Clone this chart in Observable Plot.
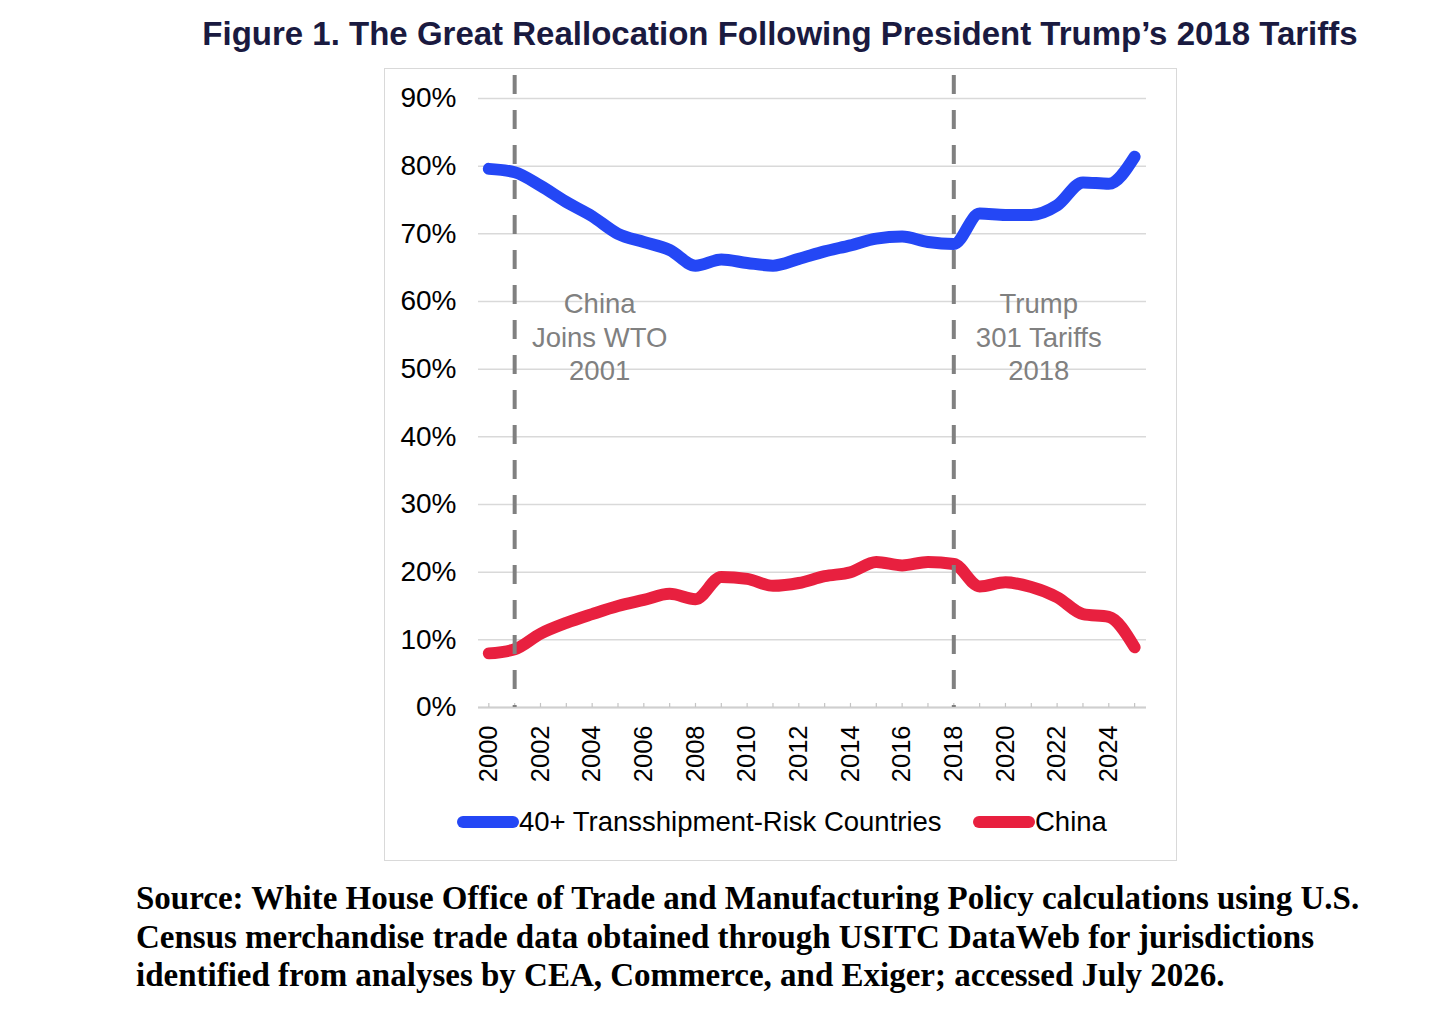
<!DOCTYPE html>
<html>
<head>
<meta charset="utf-8">
<script src="https://cdn.jsdelivr.net/npm/d3@7"></script>
<script src="https://cdn.jsdelivr.net/npm/@observablehq/plot@0.6"></script>
<style>
  html, body { margin: 0; padding: 0; background: #fff; }
  #page { position: relative; width: 1456px; height: 1027px; overflow: hidden; background: #fff; }
  #title { position: absolute; left: 0; width: 1560px; top: 15px; text-align: center;
    font-family: "Liberation Sans", Arial, Helvetica, sans-serif; font-weight: bold; font-size: 33px; color: #1a1a40; white-space: nowrap; }
  #box { position: absolute; left: 384px; top: 68px; width: 791px; height: 791px; border: 1.5px solid #d9d9d9; }
  #chart { position: absolute; left: 384px; top: 68px; }
  .leg { position: absolute; top: 806px; display: flex; align-items: center;
    font-family: "Liberation Sans", Arial, Helvetica, sans-serif; font-size: 27.5px; color: #000; white-space: nowrap; }
  .sw { display: inline-block; width: 62px; height: 12px; border-radius: 6px; margin-right: 0px; }
  #source { position: absolute; left: 136px; top: 879px; font-family: "Liberation Serif", "Times New Roman", serif;
    font-weight: bold; font-size: 33px; line-height: 38.7px; color: #000; white-space: nowrap; }
</style>
</head>
<body>
<div id="page">
  <div id="title">Figure 1. The Great Reallocation Following President Trump’s 2018 Tariffs</div>
  <div id="box"></div>
  <div id="chart"></div>
  <div id="legend"></div>
  <div id="source">Source: White House Office of Trade and Manufacturing Policy calculations using U.S.<br>Census merchandise trade data obtained through USITC DataWeb for jurisdictions<br>identified from analyses by CEA, Commerce, and Exiger; accessed July 2026.</div>
</div>
<script>
const years = [2000, 2001, 2002, 2003, 2004, 2005, 2006, 2007, 2008, 2009, 2010, 2011, 2012,
  2013, 2014, 2015, 2016, 2017, 2018, 2019, 2020, 2021, 2022, 2023, 2024, 2025];
const transshipment = [79.6, 79.1, 77.1, 74.7, 72.6, 70.0, 68.8, 67.6, 65.3, 66.2, 65.7, 65.3, 66.3,
  67.4, 68.3, 69.3, 69.6, 68.8, 68.5, 73.0, 72.8, 72.8, 74.2, 77.6, 77.4, 81.4];
const china = [8.0, 8.6, 10.9, 12.5, 13.8, 15.0, 15.9, 16.8, 16.0, 19.3, 19.0, 18.0, 18.4,
  19.4, 20.0, 21.5, 21.0, 21.5, 21.2, 17.9, 18.5, 17.8, 16.3, 13.8, 13.4, 8.9];
const seriesNames = ["40+ Transshipment-Risk Countries", "China"];
const seriesColors = ["#2447f5", "#e8203f"];
const xTickLabels = [2000, 2002, 2004, 2006, 2008, 2010, 2012, 2014, 2016, 2018, 2020, 2022, 2024];
const yTicks = [0, 10, 20, 30, 40, 50, 60, 70, 80, 90];
const eventYears = [2001, 2018];
const eventLabels = ["China\nJoins WTO\n2001", "Trump\n301 Tariffs\n2018"];

const rows = [];
years.forEach((yr, i) => {
  rows.push({year: yr, value: transshipment[i], series: seriesNames[0]});
  rows.push({year: yr, value: china[i], series: seriesNames[1]});
});
const events = eventYears.map((yr, i) => ({year: yr, label: eventLabels[i]}));

const chart = Plot.plot({
  width: 793,
  height: 792,
  marginLeft: 94,
  marginRight: 31,
  marginTop: 30,
  marginBottom: 153,
  x: {domain: [1999.6, 2025.46], axis: null},
  y: {domain: [0, 90], axis: null},
  color: {domain: seriesNames, range: seriesColors},
  style: {fontFamily: "'Liberation Sans', Arial, Helvetica, sans-serif", background: "transparent", overflow: "visible", color: "#000"},
  marks: [
    Plot.gridY(yTicks, {stroke: "#d9d9d9", strokeOpacity: 1, strokeWidth: 1.5}),
    Plot.ruleY([0], {stroke: "#cfcfcf", strokeWidth: 2}),
    Plot.ruleX(years, {x: d => d, y1: 0, y2: 0.6, stroke: "#c4c4c4", strokeWidth: 1.2}),
    Plot.axisY(yTicks, {tickSize: 0, tickPadding: 22, fontSize: 28, tickFormat: d => d + "%", fill: "#000", label: null}),
    Plot.axisX(xTickLabels, {tickSize: 0, tickPadding: 18, tickRotate: -90, fontSize: 25.5, tickFormat: d => String(d), fill: "#000", label: null}),
    Plot.line(rows, {x: "year", y: "value", z: "series", stroke: "series", strokeWidth: 12,
      curve: "monotone-x", strokeLinecap: "round", strokeLinejoin: "round"}),
    Plot.ruleX(events, {x: "year", y1: 93.4, y2: 0, stroke: "#808080", strokeWidth: 4, strokeDasharray: "19,16", clip: false}),
    Plot.text(events, {x: "year", y: 54.9, text: "label", dx: 85, fontSize: 27.5, fill: "#808080", lineHeight: 1.22})
  ]
});
document.getElementById("chart").appendChild(chart);

const legendPos = [457, 973];
seriesNames.forEach((name, i) => {
  const item = document.createElement("div");
  item.className = "leg";
  item.style.left = legendPos[i] + "px";
  const sw = document.createElement("span");
  sw.className = "sw";
  sw.style.background = seriesColors[i];
  item.appendChild(sw);
  const t = document.createElement("span");
  t.textContent = name;
  item.appendChild(t);
  document.getElementById("legend").appendChild(item);
});
</script>
</body>
</html>
